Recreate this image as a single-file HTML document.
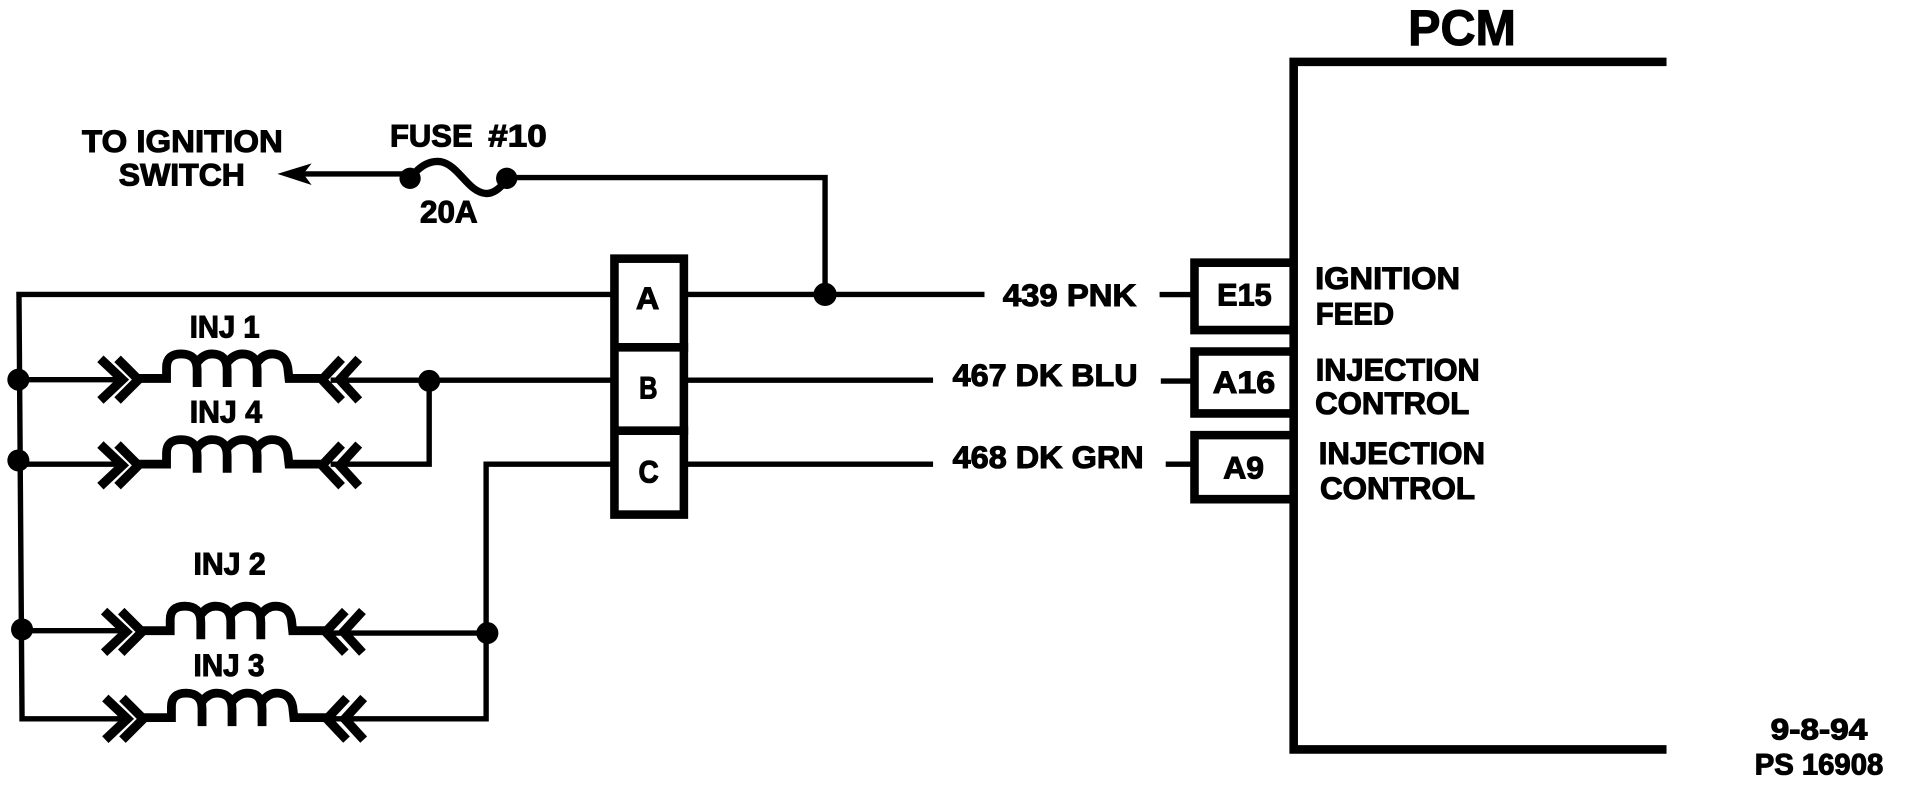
<!DOCTYPE html>
<html><head><meta charset="utf-8"><style>
html,body{margin:0;padding:0;background:#fff;width:1920px;height:785px;overflow:hidden}
svg{display:block}
text{font-family:"Liberation Sans",sans-serif;font-weight:bold;fill:#000;stroke:#000;stroke-width:.9}
.t{font-size:26px}
.w{fill:none;stroke:#000;stroke-width:4.4;stroke-linejoin:miter}
.b{fill:none;stroke:#000;stroke-width:7}
.d{fill:#000}
</style></head><body>
<svg width="1920" height="785" viewBox="0 0 1568 641" xmlns="http://www.w3.org/2000/svg">
<defs>
<g id="inj">
<path d="M82,-17 L100,0 L82,17 M96,-17 L113,0 L96,17" fill="none" stroke="#000" stroke-width="7.5"/>
<path d="M110,-1 H136 V-10 Q136,-21 148,-21 Q161,-21 161,-8 V6 M161,-14 Q166,-21 173,-21 Q185.5,-21 185.5,-8 V6 M185.5,-14 Q191,-21 198,-21 Q210,-21 210,-8 V6 M210,-14 Q215,-21 222,-21 Q233,-21 235,-10 L236,-1 H264" fill="none" stroke="#000" stroke-width="7.2"/>
<path d="M279,-17 L263,0 L279,17 M293,-17 L277.5,0 L293,17" fill="none" stroke="#000" stroke-width="7.5"/>
</g>
</defs>

<text x="1150" y="36.5" font-size="41" textLength="88" lengthAdjust="spacingAndGlyphs">PCM</text>
<path d="M1361,50.5 H1056.5 V612 H1361" fill="none" stroke="#000" stroke-width="7"/>

<text class="t" x="67" y="124" textLength="164" lengthAdjust="spacingAndGlyphs">TO IGNITION</text>
<text class="t" x="97" y="151.5" textLength="103" lengthAdjust="spacingAndGlyphs">SWITCH</text>
<text class="t" x="318.5" y="119.5" textLength="67.5" lengthAdjust="spacingAndGlyphs">FUSE</text>
<text class="t" x="398.8" y="119.5" textLength="47.7" lengthAdjust="spacingAndGlyphs">#10</text>
<text class="t" x="343" y="181.5" textLength="47" lengthAdjust="spacingAndGlyphs">20A</text>

<path class="w" d="M335,142 H245"/>
<path class="d" d="M226.5,142 L254.5,133.4 L247.7,142 L254.5,151 Z"/>
<circle class="d" cx="334.9" cy="145.6" r="8.7"/>
<circle class="d" cx="413.8" cy="145.6" r="8.7"/>
<path d="M338,142 C345,134 352,131 360,132 C375,135 382,157 397,158 C404,158 410,152 414,146" fill="none" stroke="#000" stroke-width="6"/>
<path class="w" d="M413.8,145 H673.8 V240"/>
<circle class="d" cx="673.8" cy="240.4" r="9.5"/>

<path class="w" d="M500,240.4 H15.5 L18,587 H100"/>
<circle class="d" cx="15" cy="310" r="9"/>
<circle class="d" cx="15" cy="376" r="9"/>
<circle class="d" cx="18" cy="514" r="9"/>
<path class="w" d="M15,310 H100 M15,379 H100 M18,515 H100"/>
<path class="w" d="M270,310.4 H500 M350.5,310 V379 H270"/>
<circle class="d" cx="350.5" cy="311" r="9"/>
<path class="w" d="M500,379 H397 V587 H270 M397,517 H270"/>
<circle class="d" cx="398" cy="517" r="9"/>

<use href="#inj" x="0" y="310"/>
<use href="#inj" x="0" y="380"/>
<use href="#inj" x="3" y="516"/>
<use href="#inj" x="4" y="587"/>
<text class="t" x="155" y="275.5" textLength="57" lengthAdjust="spacingAndGlyphs">INJ 1</text>
<text class="t" x="155" y="345" textLength="59" lengthAdjust="spacingAndGlyphs">INJ 4</text>
<text class="t" x="158" y="469" textLength="59" lengthAdjust="spacingAndGlyphs">INJ 2</text>
<text class="t" x="158" y="552" textLength="58" lengthAdjust="spacingAndGlyphs">INJ 3</text>

<rect class="b" x="501.8" y="211.2" width="56.7" height="209"/>
<path class="b" d="M499,283.6 H562 M499,351.7 H562"/>
<text class="t" x="519.4" y="252.5" textLength="19" lengthAdjust="spacingAndGlyphs">A</text>
<text class="t" x="522" y="325.3" textLength="15" lengthAdjust="spacingAndGlyphs">B</text>
<text class="t" x="521.4" y="394" textLength="16.5" lengthAdjust="spacingAndGlyphs">C</text>

<path class="w" d="M560,240.4 H804 M560,310.4 H762 M560,379 H762"/>
<path class="w" d="M947,240.5 H973 M948,311.2 H975 M952,379 H975"/>

<text class="t" x="819" y="250" textLength="109" lengthAdjust="spacingAndGlyphs">439 PNK</text>
<text class="t" x="778" y="315" textLength="151" lengthAdjust="spacingAndGlyphs">467 DK BLU</text>
<text class="t" x="778" y="382" textLength="156" lengthAdjust="spacingAndGlyphs">468 DK GRN</text>

<path class="b" d="M1056,214.5 H975.5 V269.5 H1056 M1056,287 H975.5 V337.6 H1056 M1056,355.3 H975.5 V407.6 H1056"/>
<text class="t" x="994" y="249.5" textLength="44.5" lengthAdjust="spacingAndGlyphs">E15</text>
<text class="t" x="990.4" y="321" textLength="51" lengthAdjust="spacingAndGlyphs">A16</text>
<text class="t" x="999" y="390.7" textLength="33.3" lengthAdjust="spacingAndGlyphs">A9</text>

<text class="t" x="1074" y="236" textLength="118.4" lengthAdjust="spacingAndGlyphs">IGNITION</text>
<text class="t" x="1074.5" y="265" textLength="64" lengthAdjust="spacingAndGlyphs">FEED</text>
<text class="t" x="1074.5" y="310.9" textLength="134" lengthAdjust="spacingAndGlyphs">INJECTION</text>
<text class="t" x="1074" y="338" textLength="126" lengthAdjust="spacingAndGlyphs">CONTROL</text>
<text class="t" x="1077" y="379" textLength="135.8" lengthAdjust="spacingAndGlyphs">INJECTION</text>
<text class="t" x="1078" y="407.5" textLength="126.6" lengthAdjust="spacingAndGlyphs">CONTROL</text>

<text x="1446" y="604" font-size="24" textLength="79" lengthAdjust="spacingAndGlyphs">9-8-94</text>
<text x="1433" y="632.5" font-size="24" textLength="105" lengthAdjust="spacingAndGlyphs">PS 16908</text>
</svg>
</body></html>
